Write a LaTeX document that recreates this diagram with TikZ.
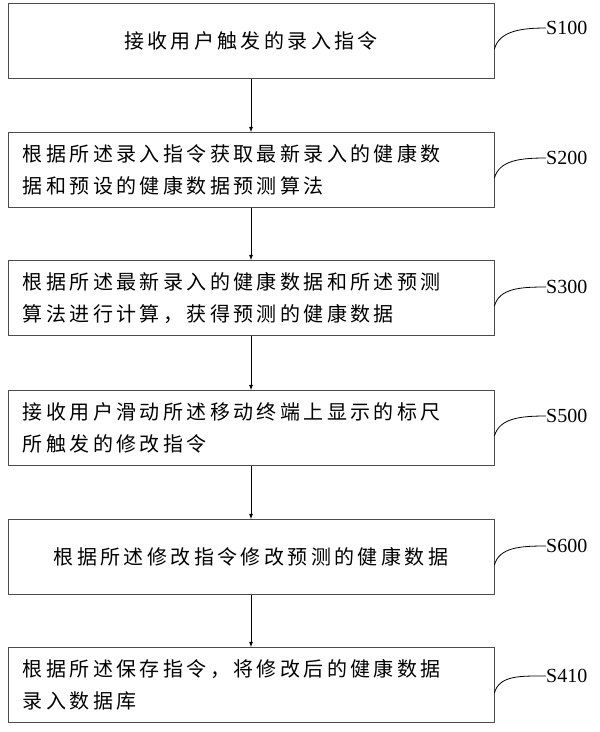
\documentclass[tikz,border=0pt]{standalone}
\usepackage{fontspec}
\setmainfont{Liberation Serif}
\newfontfamily\cjk[LetterSpace=17]{Noto Sans CJK SC}
\begin{document}
\begin{tikzpicture}[x=1pt,y=-1pt,
 box/.style={draw=black!70,line width=0.8pt,minimum width=486pt,minimum height=75pt,inner sep=0pt,font=\cjk\fontsize{20}{32}\selectfont},
 lbl/.style={font=\fontsize{20}{22}\selectfont,anchor=west,inner sep=0pt},
 arr/.style={-latex,line width=0.8pt},
 lead/.style={line width=0.8pt}]
\useasboundingbox (0,0) rectangle (600,732);
\node[box] (b1) at (251,41) {接收用户触发的录入指令};
\node[box] (b2) at (251,170) {\parbox{456pt}{根据所述录入指令获取最新录入的健康数\\据和预设的健康数据预测算法}};
\node[box] (b3) at (251,298) {\parbox{456pt}{根据所述最新录入的健康数据和所述预测\\算法进行计算，获得预测的健康数据}};
\node[box] (b4) at (251,428) {\parbox{456pt}{接收用户滑动所述移动终端上显示的标尺\\所触发的修改指令}};
\node[box] (b5) at (251,557) {根据所述修改指令修改预测的健康数据};
\node[box] (b6) at (251,685) {\parbox{456pt}{根据所述保存指令，将修改后的健康数据\\录入数据库}};
\foreach \a/\b in {b1/b2,b2/b3,b3/b4,b4/b5,b5/b6} \draw[arr] (\a.south) -- (\b.north);
\foreach \b/\t/\y in {b1/S100/28,b2/S200/158,b3/S300/287,b4/S500/416,b5/S600/546,b6/S410/676}{
 \node[lbl] (l\b) at (546,\y) {\t};
 \draw[lead] ([yshift=-8pt]\b.east) .. controls +(5,-18) and +(-25,0) .. (l\b.west);
}
\end{tikzpicture}
\end{document}
